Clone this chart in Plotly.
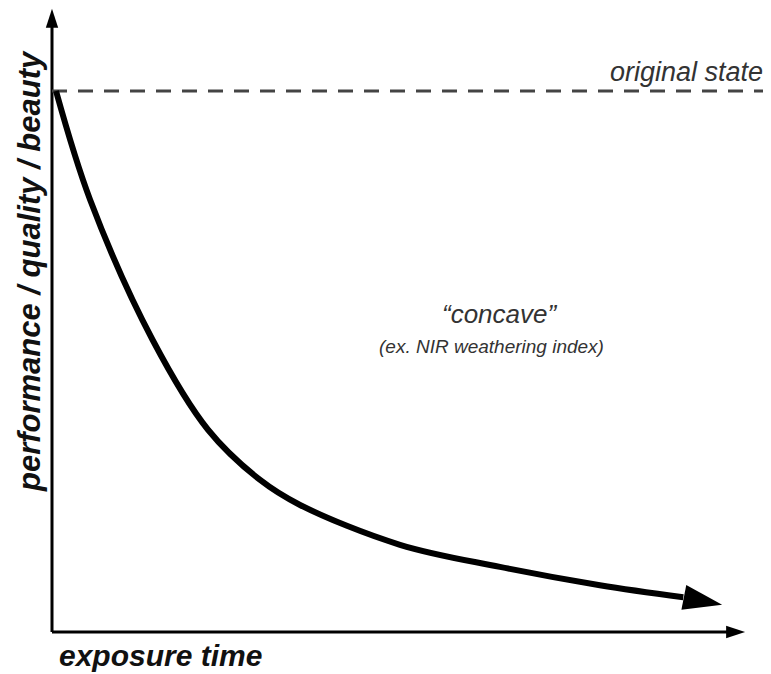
import plotly.graph_objects as go

# conceptual data (axis units 0..100)
curve_x = [0.56, 5.3, 14.0, 21.7, 28.9, 34.5, 48.4, 62.3, 76.2, 87.8]
curve_y = [85.6, 68.4, 46.2, 32.0, 24.1, 20.1, 13.8, 10.3, 7.4, 5.5]
curve_tip = (93.2, 4.3)
original_level = 85.6
dash_end_x = 99.2
x_axis_tip = 96.4
y_axis_tip = 98.6

FONT = "Liberation Sans, Arial, sans-serif"

fig = go.Figure()

def arrow_marker(size):
    return dict(symbol=["circle", "arrow"], size=[0, size], color="black",
                opacity=1, angleref="previous", line=dict(width=0))

# x-axis line with arrow
fig.add_trace(go.Scatter(
    x=[0, x_axis_tip - 2.2], y=[0, 0], mode="lines",
    line=dict(color="black", width=3), hoverinfo="skip"))
fig.add_trace(go.Scatter(
    x=[0, x_axis_tip], y=[0, 0], mode="markers", cliponaxis=False,
    marker=arrow_marker(20), hoverinfo="skip"))
# y-axis line with arrow
fig.add_trace(go.Scatter(
    x=[0, 0], y=[0, y_axis_tip - 2.6], mode="lines",
    line=dict(color="black", width=3), hoverinfo="skip"))
fig.add_trace(go.Scatter(
    x=[0, 0], y=[0, y_axis_tip], mode="markers", cliponaxis=False,
    marker=arrow_marker(20), hoverinfo="skip"))

# original state dashed line
fig.add_trace(go.Scatter(
    x=[0, dash_end_x], y=[original_level, original_level], mode="lines",
    line=dict(color="#444444", width=3, dash="15px,11px"), hoverinfo="skip"))

# decay curve
fig.add_trace(go.Scatter(
    x=curve_x, y=curve_y, mode="lines",
    line=dict(color="black", width=6, shape="spline", smoothing=1.0),
    hoverinfo="skip"))
fig.add_trace(go.Scatter(
    x=[curve_x[-1], curve_tip[0]], y=[curve_y[-1], curve_tip[1]], mode="markers",
    cliponaxis=False, marker=arrow_marker(41), hoverinfo="skip"))

annotations = [
    dict(text="original state", x=dash_end_x, y=original_level, xref="x", yref="y",
         xanchor="right", yanchor="bottom", yshift=2, showarrow=False,
         font=dict(family=FONT, size=27, color="#333333", style="italic")),
    dict(text="\u201cconcave\u201d", x=62.3, y=50.3, xref="x", yref="y",
         showarrow=False,
         font=dict(family=FONT, size=26, color="#333333", style="italic")),
    dict(text="(ex. NIR weathering index)", x=61.1, y=45.1, xref="x", yref="y",
         showarrow=False,
         font=dict(family=FONT, size=19, color="#333333", style="italic")),
    dict(text="exposure time", x=0.0124, y=-0.027, xref="paper", yref="paper",
         xanchor="left", yanchor="middle", showarrow=False,
         font=dict(family=FONT, size=30, color="#111111", style="italic", weight="bold")),
    dict(text="performance / quality / beauty", x=-0.0263, y=0.5825, xref="paper", yref="paper",
         textangle=-90, xanchor="center", yanchor="middle", showarrow=False,
         font=dict(family=FONT, size=31, color="#111111", style="italic", weight="bold")),
]

fig.update_layout(
    width=763, height=666,
    margin=dict(l=40, r=0, t=0, b=36),
    paper_bgcolor="white", plot_bgcolor="white",
    showlegend=False,
    xaxis=dict(range=[-0.556, 100.0], visible=False, fixedrange=True),
    yaxis=dict(range=[-0.95, 98.73], visible=False, fixedrange=True),
    annotations=annotations,
)

fig.write_html("out.html")
